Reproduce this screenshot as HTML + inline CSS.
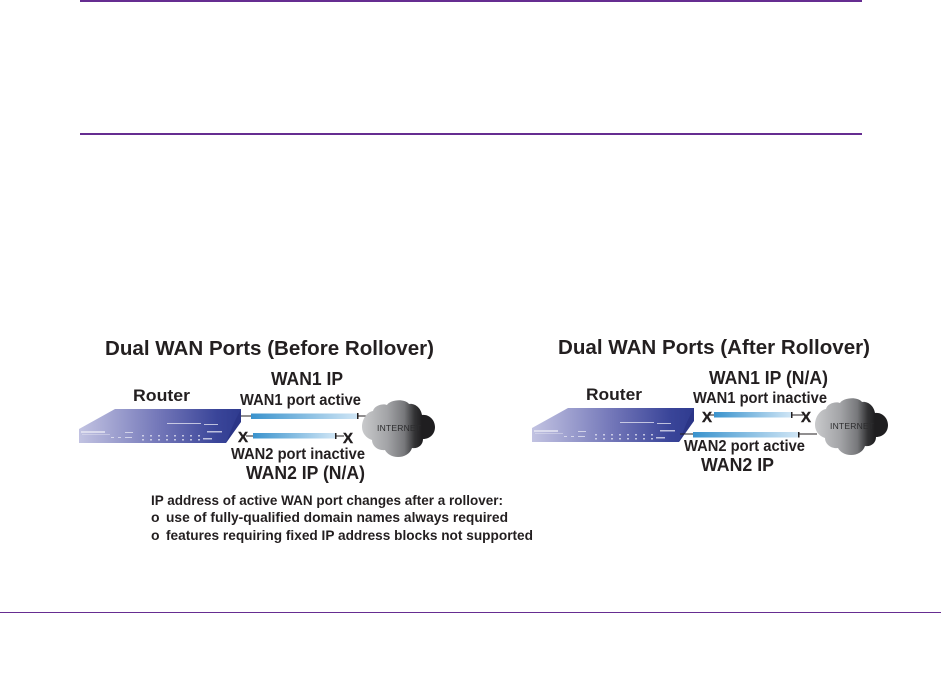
<!DOCTYPE html>
<html><head><meta charset="utf-8"><style>
html,body{margin:0;padding:0;background:#fff;width:941px;height:680px;overflow:hidden}
svg{display:block}
text{font-family:"Liberation Sans",sans-serif;fill:#231f20}
.b{font-weight:bold}
</style></head><body>
<svg width="941" height="680" viewBox="0 0 941 680" xmlns="http://www.w3.org/2000/svg">
<defs>
<linearGradient id="r" x1="0" x2="1" y1="0" y2="0"><stop offset="0" stop-color="#c2c3e2"/><stop offset=".5" stop-color="#7276b8"/><stop offset=".85" stop-color="#3a4599"/><stop offset="1" stop-color="#2f3b8f"/></linearGradient>
<linearGradient id="p" x1="0" x2="1" y1="0" y2="0"><stop offset="0" stop-color="#3a93cd"/><stop offset="1" stop-color="#cfe5f5"/></linearGradient>
<linearGradient id="c" x1="0" x2="1" y1="0" y2="0"><stop offset="0" stop-color="#c9cacc"/><stop offset=".35" stop-color="#a2a3a6"/><stop offset=".58" stop-color="#77787b"/><stop offset=".72" stop-color="#333335"/><stop offset=".82" stop-color="#1f1e20"/><stop offset="1" stop-color="#1f1e20"/></linearGradient>
<g id="router">
<polygon points="0,20 36,0 162,0 162,12 147,34 0,34" fill="url(#r)"/>
<polygon points="162,0 162,13 147,34 155,14" fill="#2b3587"/>
<g fill="#e8e8f4" opacity=".75">
<rect x="2" y="22" width="24" height="2"/><rect x="3" y="25" width="28" height="1" opacity=".6"/>
<rect x="88" y="14" width="34" height="1"/><rect x="125" y="15" width="14" height="1"/><rect x="128" y="22" width="15" height="1.5"/>
<rect x="32" y="28" width="3" height="1"/><rect x="39" y="28" width="3" height="1"/><rect x="46" y="23" width="8" height="1"/><rect x="46" y="28" width="7" height="1"/>
<rect x="63" y="26" width="2" height="1.5"/><rect x="71" y="26" width="2" height="1.5"/><rect x="79" y="26" width="2" height="1.5"/><rect x="87" y="26" width="2" height="1.5"/><rect x="95" y="26" width="2" height="1.5"/><rect x="103" y="26" width="2" height="1.5"/><rect x="111" y="26" width="2" height="1.5"/><rect x="119" y="26" width="2" height="1.5"/>
<rect x="63" y="30" width="2" height="1.5"/><rect x="71" y="30" width="2" height="1.5"/><rect x="79" y="30" width="2" height="1.5"/><rect x="87" y="30" width="2" height="1.5"/><rect x="95" y="30" width="2" height="1.5"/><rect x="103" y="30" width="2" height="1.5"/><rect x="111" y="30" width="2" height="1.5"/><rect x="119" y="30" width="2" height="1.5"/>
<rect x="124" y="29" width="9" height="1.5"/>
</g>
</g>
<g id="cloud">
<path d="M0,27 C0,19 5,12 11,11 C12,6 20,3 25,5 C28,0 42,-2 47,4 C53,3 59,8 60,15 C67,14 73,20 73,27 C73,34 68,39 61,39 C61,45 56,49 50,48 C48,54 42,57 36,57 C30,57 25,54 23,50 C16,51 10,46 10,40 C4,38 0,33 0,27 Z" fill="url(#c)"/>
<text x="15" y="31" font-size="8.5" textLength="44" lengthAdjust="spacing" style="fill:#2c2c2e">INTERNET</text>
</g>
</defs>

<rect x="80" y="0" width="782" height="2" fill="#662d91"/>
<rect x="80" y="133" width="782" height="2" fill="#662d91"/>
<rect x="0" y="612" width="941" height="1" fill="#662d91"/>

<!-- left diagram -->
<text class="b" x="105" y="355" font-size="20" textLength="329" lengthAdjust="spacingAndGlyphs">Dual WAN Ports (Before Rollover)</text>
<text class="b" x="133" y="401" font-size="16.5" textLength="57" lengthAdjust="spacingAndGlyphs">Router</text>
<text class="b" x="271" y="385" font-size="18" textLength="72" lengthAdjust="spacingAndGlyphs">WAN1 IP</text>
<text class="b" x="240" y="405" font-size="15.5" textLength="121" lengthAdjust="spacingAndGlyphs">WAN1 port active</text>
<use href="#router" x="79" y="409"/>
<line x1="241" y1="416" x2="372" y2="416" stroke="#231f20" stroke-width="1"/>
<rect x="251" y="413.5" width="106" height="5.5" fill="url(#p)"/>
<rect x="357" y="413" width="1.5" height="6" fill="#231f20"/>
<line x1="246" y1="436" x2="344" y2="436" stroke="#231f20" stroke-width="1"/>
<rect x="253" y="433" width="82" height="5.5" fill="url(#p)"/>
<rect x="335" y="433" width="1.5" height="6" fill="#231f20"/>
<text class="b" x="238" y="442" font-size="15" stroke="#231f20" stroke-width=".4">X</text>
<text class="b" x="343" y="443" font-size="15" stroke="#231f20" stroke-width=".4">X</text>
<text class="b" x="231" y="459" font-size="15.5" textLength="134" lengthAdjust="spacingAndGlyphs">WAN2 port inactive</text>
<text class="b" x="246" y="479" font-size="18" textLength="119" lengthAdjust="spacingAndGlyphs">WAN2 IP (N/A)</text>
<use href="#cloud" x="362" y="400"/>

<text class="b" x="151" y="505" font-size="14" textLength="352" lengthAdjust="spacingAndGlyphs">IP address of active WAN port changes after a rollover:</text>
<text class="b" x="151" y="522" font-size="14">o</text>
<text class="b" x="166" y="522" font-size="14" textLength="342" lengthAdjust="spacingAndGlyphs">use of fully-qualified domain names always required</text>
<text class="b" x="151" y="540" font-size="14">o</text>
<text class="b" x="166" y="540" font-size="14" textLength="367" lengthAdjust="spacingAndGlyphs">features requiring fixed IP address blocks not supported</text>

<!-- right diagram -->
<text class="b" x="558" y="354" font-size="20" textLength="312" lengthAdjust="spacingAndGlyphs">Dual WAN Ports (After Rollover)</text>
<text class="b" x="586" y="400" font-size="16.5" textLength="56" lengthAdjust="spacingAndGlyphs">Router</text>
<text class="b" x="709" y="384" font-size="18" textLength="119" lengthAdjust="spacingAndGlyphs">WAN1 IP (N/A)</text>
<text class="b" x="693" y="403" font-size="15.5" textLength="134" lengthAdjust="spacingAndGlyphs">WAN1 port inactive</text>
<use href="#router" x="532" y="408"/>
<line x1="708" y1="415" x2="803" y2="415" stroke="#231f20" stroke-width="1"/>
<rect x="714" y="412" width="77" height="5.5" fill="url(#p)"/>
<rect x="791" y="412" width="1.5" height="6" fill="#231f20"/>
<text class="b" x="702" y="422" font-size="15" stroke="#231f20" stroke-width=".4">X</text>
<text class="b" x="801" y="422" font-size="15" stroke="#231f20" stroke-width=".4">X</text>
<line x1="680" y1="434" x2="817" y2="434" stroke="#231f20" stroke-width="1"/>
<rect x="693" y="432" width="105" height="5.5" fill="url(#p)"/>
<rect x="798" y="432" width="1.5" height="5.5" fill="#231f20"/>
<text class="b" x="684" y="451" font-size="15.5" textLength="121" lengthAdjust="spacingAndGlyphs">WAN2 port active</text>
<text class="b" x="701" y="471" font-size="18" textLength="73" lengthAdjust="spacingAndGlyphs">WAN2 IP</text>
<use href="#cloud" x="815" y="398"/>
</svg>
</body></html>
